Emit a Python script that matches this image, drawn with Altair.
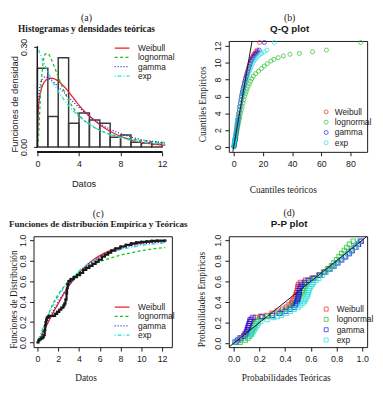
import altair as alt
import pandas as pd

SERIF = "Liberation Serif"
SANS = "Liberation Sans"
INK = "#1a1a1a"
W, H = 141, 113

DISTS = ["Weibull", "lognormal", "gamma", "exp"]
COLORS = ["#ee1d25", "#1fbf1f", "#1818ee", "#22dede"]
DASHES = [[1, 0], [3, 2.5], [1, 2], [1, 2, 4, 2]]

# ---------- (a) histogram + theoretical densities ----------
hist_left = [0, 1, 2, 3, 4, 5, 6, 7, 8, 9, 10, 11]
hist_right = [1, 2, 3, 4, 5, 6, 7, 8, 9, 10, 11, 12]
hist_density = [0.236, 0.091, 0.267, 0.071, 0.102, 0.081, 0.071, 0.029, 0.036, 0.014, 0.012, 0.008]

dens_x = [0, 0.05, 0.15, 0.3, 0.5, 0.75, 1.0, 1.3, 1.7, 2.0, 2.5, 3.0, 3.5, 4.0, 5.0, 6.0, 7.0, 8.0, 9.0, 10.0, 11.0, 12.3]
dens_weibull = [0.0, 0.09, 0.135, 0.165, 0.185, 0.198, 0.204, 0.206, 0.203, 0.197, 0.183, 0.165, 0.145, 0.125, 0.093, 0.067, 0.047, 0.032, 0.021, 0.014, 0.009, 0.005]
dens_lognormal = [0.0, 0.005, 0.06, 0.16, 0.24, 0.278, 0.28, 0.265, 0.235, 0.21, 0.172, 0.14, 0.115, 0.095, 0.068, 0.05, 0.038, 0.03, 0.024, 0.019, 0.016, 0.013]
dens_gamma = [0.0, 0.1, 0.16, 0.19, 0.205, 0.21, 0.208, 0.2, 0.19, 0.18, 0.165, 0.15, 0.133, 0.118, 0.092, 0.07, 0.053, 0.04, 0.03, 0.022, 0.017, 0.012]
dens_exp = [0.3, 0.295, 0.287, 0.275, 0.26, 0.242, 0.225, 0.205, 0.182, 0.167, 0.144, 0.124, 0.107, 0.092, 0.068, 0.05, 0.037, 0.028, 0.02, 0.015, 0.011, 0.008]

# ---------- (b) Q-Q plot ----------
emp_q = [0.05, 0.2, 0.4, 0.6, 0.75, 0.85, 0.95, 1.1, 1.4, 1.7, 2.0, 2.3, 2.6, 2.8, 3.0,
         3.3, 3.6, 4.0, 4.4, 4.8, 5.2, 5.6, 6.0, 6.3, 6.6, 6.9, 7.2, 7.5, 7.8, 8.1,
         8.4, 8.7, 9.0, 9.3, 9.6, 9.9, 10.2, 10.4, 10.6, 10.8, 11.0, 11.1, 11.3, 11.5, 12.4]
qq_weibull = [0.25, 0.4, 0.55, 0.72, 0.85, 0.95, 1.05, 1.25, 1.5, 1.75, 2.0, 2.25, 2.45, 2.6, 2.75,
              3.0, 3.25, 3.6, 3.95, 4.3, 4.7, 5.1, 5.45, 5.8, 6.15, 6.5, 6.9, 7.3, 7.7, 8.1,
              8.55, 9.0, 9.5, 10.0, 10.5, 11.0, 11.6, 12.1, 12.6, 13.2, 13.9, 14.4, 15.1, 16.0, 17.8]
qq_lognormal = [0.3, 0.5, 0.7, 0.9, 1.05, 1.2, 1.3, 1.5, 1.75, 2.05, 2.35, 2.65, 2.95, 3.2, 3.45,
                3.85, 4.25, 4.75, 5.25, 5.75, 6.3, 6.9, 7.5, 8.0, 8.6, 9.2, 9.9, 10.7, 11.6, 12.4,
                13.5, 15.0, 17.0, 19.0, 21.0, 23.0, 25.5, 27.5, 30.5, 34.0, 38.5, 45.0, 54.0, 63.5, 87.0]
qq_gamma = [0.15, 0.3, 0.45, 0.6, 0.75, 0.85, 1.0, 1.2, 1.4, 1.65, 1.9, 2.15, 2.4, 2.55, 2.7,
            2.95, 3.2, 3.5, 3.85, 4.2, 4.6, 5.0, 5.4, 5.75, 6.1, 6.5, 6.9, 7.3, 7.75, 8.2,
            8.7, 9.25, 9.8, 10.3, 10.9, 11.5, 12.1, 12.7, 13.3, 14.0, 14.8, 15.5, 16.4, 17.5, 21.0]
qq_exp = [0.05, 0.12, 0.25, 0.4, 0.55, 0.7, 0.8, 0.95, 1.15, 1.4, 1.65, 1.9, 2.15, 2.35, 2.55,
          2.85, 3.15, 3.55, 3.95, 4.35, 4.8, 5.25, 5.7, 6.05, 6.45, 6.85, 7.3, 7.8, 8.3, 8.85,
          9.4, 10.0, 10.7, 11.4, 12.2, 13.0, 13.9, 14.7, 15.6, 16.7, 18.0, 19.2, 20.8, 22.8, 27.8]
qq_ref = [-4, 14]

# ---------- (c) empirical and theoretical CDFs ----------
ecdf_x = [0.0, 0.1, 0.2, 0.35, 0.5, 0.6, 0.7, 0.75, 0.8, 0.85, 0.9, 1.0, 1.1, 1.5, 1.7,
          1.9, 2.1, 2.3, 2.5, 2.6, 2.7, 2.8, 2.85, 2.9, 3.0, 3.2, 3.5, 3.8, 4.1, 4.4,
          4.7, 5.0, 5.3, 5.6, 5.9, 6.2, 6.5, 6.8, 7.1, 7.5, 8.0, 8.5, 9.0, 9.5, 10.0,
          10.5, 11.0, 11.5, 12.3]
ecdf_p = [0.0, 0.02, 0.03, 0.04, 0.05, 0.07, 0.12, 0.17, 0.2, 0.22, 0.24, 0.25, 0.26, 0.26, 0.28,
          0.3, 0.32, 0.34, 0.36, 0.38, 0.42, 0.48, 0.53, 0.57, 0.6, 0.62, 0.64, 0.66, 0.68, 0.71,
          0.73, 0.75, 0.77, 0.79, 0.81, 0.84, 0.86, 0.88, 0.9, 0.92, 0.94, 0.955, 0.97, 0.98, 0.985,
          0.99, 0.995, 0.997, 1.0]
cdf_x = [0, 0.25, 0.5, 0.75, 1.0, 1.5, 2.0, 2.5, 3.0, 3.5, 4.0, 5.0, 6.0, 7.0, 8.0, 9.0, 10.0, 11.0, 12.3]
cdf_weibull = [0, 0.04, 0.09, 0.14, 0.19, 0.29, 0.38, 0.47, 0.55, 0.62, 0.68, 0.78, 0.85, 0.9, 0.935, 0.958, 0.973, 0.983, 0.99]
cdf_lognormal = [0, 0.03, 0.11, 0.19, 0.26, 0.38, 0.47, 0.54, 0.6, 0.645, 0.685, 0.745, 0.79, 0.825, 0.855, 0.878, 0.898, 0.914, 0.93]
cdf_gamma = [0, 0.04, 0.1, 0.15, 0.21, 0.31, 0.4, 0.48, 0.555, 0.62, 0.675, 0.77, 0.835, 0.885, 0.92, 0.945, 0.962, 0.974, 0.984]
cdf_exp = [0, 0.07, 0.14, 0.2, 0.26, 0.36, 0.45, 0.53, 0.59, 0.65, 0.7, 0.78, 0.83, 0.875, 0.91, 0.93, 0.95, 0.963, 0.975]

# ---------- (d) P-P plot ----------
emp_p = [0.01, 0.03, 0.05, 0.07, 0.09, 0.11, 0.13, 0.15, 0.17, 0.19, 0.21, 0.23, 0.25, 0.26, 0.27,
         0.29, 0.31, 0.33, 0.35, 0.37, 0.39, 0.41, 0.43, 0.45, 0.47, 0.49, 0.51, 0.53, 0.55, 0.57,
         0.59, 0.61, 0.63, 0.66, 0.69, 0.72, 0.75, 0.78, 0.81, 0.84, 0.87, 0.90, 0.93, 0.96, 0.99]
pp_weibull = [0.02, 0.04, 0.06, 0.08, 0.09, 0.10, 0.11, 0.115, 0.12, 0.125, 0.13, 0.14, 0.17, 0.21, 0.26,
              0.30, 0.34, 0.38, 0.41, 0.43, 0.45, 0.46, 0.47, 0.48, 0.485, 0.49, 0.495, 0.50, 0.50, 0.505,
              0.52, 0.56, 0.61, 0.66, 0.70, 0.74, 0.77, 0.80, 0.83, 0.86, 0.89, 0.92, 0.94, 0.97, 0.99]
pp_lognormal = [0.05, 0.09, 0.11, 0.125, 0.135, 0.14, 0.145, 0.15, 0.16, 0.17, 0.18, 0.19, 0.22, 0.26, 0.30,
                0.35, 0.38, 0.41, 0.44, 0.46, 0.48, 0.49, 0.50, 0.51, 0.52, 0.53, 0.535, 0.54, 0.55, 0.56,
                0.57, 0.60, 0.63, 0.67, 0.70, 0.73, 0.76, 0.78, 0.80, 0.82, 0.84, 0.86, 0.88, 0.90, 0.93]
pp_gamma = [0.01, 0.03, 0.05, 0.08, 0.09, 0.10, 0.105, 0.11, 0.115, 0.12, 0.125, 0.13, 0.15, 0.22, 0.30,
            0.36, 0.40, 0.44, 0.47, 0.48, 0.49, 0.495, 0.50, 0.50, 0.505, 0.51, 0.51, 0.515, 0.52, 0.53,
            0.55, 0.58, 0.62, 0.67, 0.71, 0.75, 0.78, 0.81, 0.84, 0.87, 0.90, 0.92, 0.95, 0.97, 0.99]
pp_exp = [0.01, 0.04, 0.08, 0.12, 0.14, 0.15, 0.16, 0.17, 0.18, 0.19, 0.21, 0.26, 0.31, 0.34, 0.37,
          0.41, 0.44, 0.47, 0.50, 0.52, 0.54, 0.55, 0.56, 0.57, 0.575, 0.58, 0.585, 0.59, 0.60, 0.61,
          0.62, 0.64, 0.66, 0.69, 0.72, 0.75, 0.78, 0.80, 0.83, 0.86, 0.89, 0.91, 0.94, 0.96, 0.98]
pp_ref = [-0.04, 1.04]


def long_frame(xs, series, xname, yname):
    rows = []
    for name, ys in zip(DISTS, series):
        xv = xs if not isinstance(xs[0], list) else xs[DISTS.index(name)]
        for a, b in zip(xv, ys):
            rows.append({xname: a, yname: b, "dist": name})
    return pd.DataFrame(rows)


NB = "\u00a0"


def panel_title(tag, main, main_font, main_size, dx):
    return alt.TitleParams(
        text=tag, subtitle=main, font=SERIF, fontSize=10, fontWeight="normal", color=INK,
        subtitleFont=main_font, subtitleFontSize=main_size, subtitleFontWeight="bold",
        subtitleColor=INK, subtitlePadding=1, anchor="middle", frame="group",
        offset=5, dx=dx,
    )


def left_axis(values, fmt, title, tfont, label_pad, title_pad, offset=0):
    return alt.Axis(
        values=values, format=fmt, title=title, labelAngle=270, labelAlign="center",
        labelBaseline="bottom", labelPadding=label_pad, offset=offset,
        titleFont=tfont, titleFontSize=9.5, titlePadding=title_pad, titleY=64,
    )


def bottom_axis(values, fmt, title, tfont, title_x, title_pad):
    return alt.Axis(
        values=values, format=fmt, title=title, labelPadding=4,
        titleFont=tfont, titleFontSize=9.5, titlePadding=title_pad, titleX=title_x,
    )


def line_legend(lx, ly):
    return alt.Legend(
        title=None, orient="none", legendX=lx, legendY=ly, symbolType="M-3,0H3",
        symbolSize=25, symbolStrokeWidth=1.3, labelFont=SANS, labelFontSize=8.5,
        labelColor=INK, labelOffset=12, rowPadding=0.5, padding=0,
    )


def point_legend(lx, ly, shape, loff):
    return alt.Legend(
        title=None, orient="none", legendX=lx, legendY=ly, symbolType=shape,
        symbolSize=16, symbolStrokeWidth=1, labelFont=SANS, labelFontSize=8.5,
        labelColor=INK, labelOffset=loff, rowPadding=1.5, padding=0,
    )


color_scale = alt.Scale(domain=DISTS, range=COLORS)
dash_scale = alt.Scale(domain=DISTS, range=DASHES)

# ================= panel (a) =================
xa = alt.Scale(domain=[-0.38, 12.94], nice=False, zero=False)
ya = alt.Scale(domain=[-0.0147, 0.3176], nice=False, zero=False)
ax_xa = bottom_axis([0, 2, 4, 6, 8, 10, 12], "d", "Datos", SANS, 51, 10)
ax_ya = left_axis([0, 0.1, 0.2, 0.3], ".2f", "Funciones de densidad", SANS, 5.5, 0, offset=-4.2)

hist_df = pd.DataFrame({"x": hist_left, "x1": hist_right, "y": hist_density})
dens_df = long_frame(dens_x, [dens_weibull, dens_lognormal, dens_gamma, dens_exp], "x", "y")
leg_a = line_legend(86, 3)

bars = alt.Chart(hist_df).mark_rect(fillOpacity=0, stroke="#3a3a3a", strokeWidth=1.5).encode(
    x=alt.X("x:Q", scale=xa, axis=ax_xa), x2="x1:Q",
    y=alt.Y("y:Q", scale=ya, axis=ax_ya), y2=alt.datum(0),
)
dens = alt.Chart(dens_df).mark_line(strokeWidth=1.3, interpolate="monotone").encode(
    x=alt.X("x:Q", scale=xa, axis=ax_xa),
    y=alt.Y("y:Q", scale=ya, axis=ax_ya),
    color=alt.Color("dist:N", scale=color_scale, legend=leg_a),
    strokeDash=alt.StrokeDash("dist:N", scale=dash_scale, legend=leg_a),
)
yline = alt.Chart(hist_df).mark_rule(color=INK, strokeWidth=1).encode(
    x=alt.datum(0), y=alt.datum(0), y2=alt.datum(0.3)
)
xline = alt.Chart(hist_df).mark_rule(color=INK, strokeWidth=1).encode(
    x=alt.datum(0), x2=alt.datum(12), y=alt.value(H)
)
panel_a = alt.layer(bars, dens, yline, xline).properties(
    width=W, height=H,
    title=panel_title(NB * 7 + "(a)", "Histogramas y densidades teóricas", SERIF, 9.5, -16.5),
    view=alt.ViewBackground(stroke="transparent"),
)

# ================= panel (b) =================
xb = alt.Scale(domain=[-3.36, 91.4], nice=False, zero=False)
yb = alt.Scale(domain=[-0.58, 12.58], nice=False, zero=False)
ax_xb = bottom_axis([0, 20, 40, 60, 80], "d", "Cuantiles teóricos", SERIF, 55, 16)
ax_yb = left_axis([0, 2, 4, 6, 8, 10, 12], "d", "Cuantiles Empíricos", SERIF, 2, 7)
qq_df = long_frame([qq_weibull, qq_lognormal, qq_gamma, qq_exp], [emp_q] * 4, "x", "y")
ref_b = pd.DataFrame({"x": qq_ref, "y": qq_ref})

pts_b = alt.Chart(qq_df).mark_point(shape="circle", filled=False, size=17, strokeWidth=1).encode(
    x=alt.X("x:Q", scale=xb, axis=ax_xb),
    y=alt.Y("y:Q", scale=yb, axis=ax_yb),
    color=alt.Color("dist:N", scale=color_scale, legend=point_legend(95, 68, "circle", 4.5)),
)
line_b = alt.Chart(ref_b).mark_line(color=INK, strokeWidth=1, clip=True).encode(
    x=alt.X("x:Q", scale=xb, axis=ax_xb), y=alt.Y("y:Q", scale=yb, axis=ax_yb)
)
panel_b = alt.layer(pts_b, line_b).properties(
    width=W, height=H,
    title=panel_title("(b)" + NB * 14, "Q-Q plot", SANS, 10, -8.5),
)

# ================= panel (c) =================
xc = alt.Scale(domain=[-0.38, 12.94], nice=False, zero=False)
yc = alt.Scale(domain=[-0.046, 1.04], nice=False, zero=False)
ax_xc = bottom_axis([0, 2, 4, 6, 8, 10, 12], "d", "Datos", SERIF, 53, 9)
ax_yc = left_axis([0, 0.2, 0.4, 0.6, 0.8, 1.0], ".1f", "Funciones de Distribución", SERIF, 2, 0)
cdf_df = long_frame(cdf_x, [cdf_weibull, cdf_lognormal, cdf_gamma, cdf_exp], "x", "y")
ecdf_df = pd.DataFrame({"x": ecdf_x, "y": ecdf_p})
leg_c = line_legend(86, 68)

cdfs = alt.Chart(cdf_df).mark_line(strokeWidth=1.3, interpolate="monotone").encode(
    x=alt.X("x:Q", scale=xc, axis=ax_xc),
    y=alt.Y("y:Q", scale=yc, axis=ax_yc),
    color=alt.Color("dist:N", scale=color_scale, legend=leg_c),
    strokeDash=alt.StrokeDash("dist:N", scale=dash_scale, legend=leg_c),
)
ecdf_line = alt.Chart(ecdf_df).mark_line(color=INK, strokeWidth=2.2, interpolate="step-after").encode(
    x=alt.X("x:Q", scale=xc, axis=ax_xc), y=alt.Y("y:Q", scale=yc, axis=ax_yc)
)
ecdf_pts = alt.Chart(ecdf_df).mark_point(color=INK, filled=True, size=8).encode(
    x=alt.X("x:Q", scale=xc, axis=ax_xc), y=alt.Y("y:Q", scale=yc, axis=ax_yc)
)
panel_c = alt.layer(cdfs, ecdf_line, ecdf_pts).properties(
    width=W, height=H,
    title=panel_title("(c)" + NB * 2, "Funciones de distribución Empírica y Teóricas", SERIF, 9.2, -4.5),
)

# ================= panel (d) =================
xd = alt.Scale(domain=[-0.038, 1.038], nice=False, zero=False)
yd = alt.Scale(domain=[-0.038, 1.038], nice=False, zero=False)
ax_xd = bottom_axis([0, 0.2, 0.4, 0.6, 0.8, 1.0], ".1f", "Probabilidades Teóricas", SERIF, 58, 9)
ax_yd = left_axis([0, 0.2, 0.4, 0.6, 0.8, 1.0], ".1f", "Probabilidades Empíricas", SERIF, 2, 8)
pp_df = long_frame([pp_weibull, pp_lognormal, pp_gamma, pp_exp], [emp_p] * 4, "x", "y")
ref_d = pd.DataFrame({"x": pp_ref, "y": pp_ref})

pts_d = alt.Chart(pp_df).mark_point(shape="square", filled=False, size=20, strokeWidth=1.1).encode(
    x=alt.X("x:Q", scale=xd, axis=ax_xd),
    y=alt.Y("y:Q", scale=yd, axis=ax_yd),
    color=alt.Color("dist:N", scale=color_scale, legend=point_legend(95, 70, "square", 6.5)),
)
line_d = alt.Chart(ref_d).mark_line(color=INK, strokeWidth=1, clip=True).encode(
    x=alt.X("x:Q", scale=xd, axis=ax_xd), y=alt.Y("y:Q", scale=yd, axis=ax_yd)
)
panel_d = alt.layer(pts_d, line_d).properties(
    width=W, height=H,
    title=panel_title("(d)" + NB * 3, "P-P plot", SANS, 10, -9),
)

chart = alt.concat(
    panel_a, panel_b, panel_c, panel_d, columns=2,
    spacing=alt.RowColnumber(row=86, column=58), bounds="flush",
).resolve_scale(
    x="independent", y="independent", color="independent", strokeDash="independent"
).resolve_legend(
    color="independent", strokeDash="independent"
).properties(
    padding=0
).configure_axis(
    grid=False, domain=False, labelFont=SANS, labelFontSize=9, labelColor=INK,
    tickColor=INK, tickSize=4, tickWidth=1, titleColor=INK, titleFontWeight="normal",
).configure_view(
    stroke=INK, strokeWidth=1
)

chart.save("out.html", embed_options={"renderer": "svg", "actions": False})
